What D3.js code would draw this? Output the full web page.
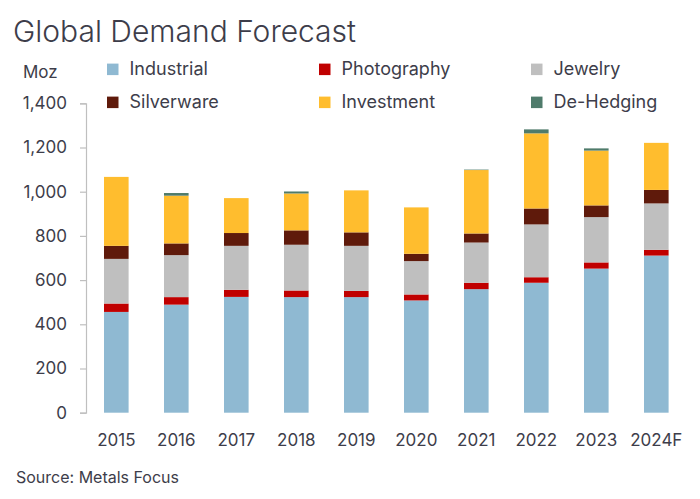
<!DOCTYPE html>
<html><head><meta charset="utf-8">
<script src="https://cdn.jsdelivr.net/npm/d3@7"></script>
<style>
html,body{margin:0;padding:0;background:#fff;}
svg{display:block;font-family:Inter, "Liberation Sans", sans-serif;}
</style></head>
<body><svg id="c" width="700" height="499"></svg>
<script>
const years = ["2015","2016","2017","2018","2019","2020","2021","2022","2023","2024F"];
const industrial  = [456, 489, 524, 523, 523, 508, 559, 588, 652, 711];
const photography = [38, 34, 32, 30, 28, 27, 29, 25, 28, 26];
const jewelry     = [202, 190, 199, 207, 204, 151, 182, 239, 205, 210];
const silverware  = [59, 53, 58, 65, 61, 33, 41, 72, 53, 61];
const investment  = [312, 216, 158, 167, 190, 210, 287, 340, 248, 213];
const deHedging   = [0, 12, 0, 9, 0, 0, 2, 18, 10, 0];
const seriesNames = ["Industrial","Photography","Jewelry","Silverware","Investment","De-Hedging"];
const seriesValues = [industrial, photography, jewelry, silverware, investment, deHedging];
const colors = ["#8fb9d2","#c00000","#bfbfbf","#5f1a0b","#ffbd2e","#4f7b6b"];
const yTicks = [0,200,400,600,800,1000,1200,1400];

const svg = d3.select("#c");
const textColor = "#3d3d4a";

const rows = years.map((y,i)=>{
  const o = {year:y};
  seriesNames.forEach((s,k)=>o[s]=seriesValues[k][i]);
  return o;
});
const stacked = d3.stack().keys(seriesNames)(rows);

const x = d3.scaleBand().domain(years).range([86.3, 686.3]).paddingInner(0.59).paddingOuter(0.295);
const y = d3.scaleLinear().domain([0,1400]).range([412.7, 103.3]);

// Title
svg.append("text").attr("x",13).attr("y",41.7)
  .attr("font-size",30).attr("font-weight",300).attr("fill",textColor)
  .text("Global Demand Forecast");

// Moz
svg.append("text").attr("x",23).attr("y",78.3)
  .attr("font-size",17).attr("fill",textColor).text("Moz");

// Legend
const legX = [107, 319, 531];
const legY = [69.3, 102.3];
seriesNames.forEach((s,k)=>{
  const col = k%3, row = Math.floor(k/3);
  const g = svg.append("g").attr("transform",`translate(${legX[col]},${legY[row]})`);
  g.append("rect").attr("x",0).attr("y",-5.7).attr("width",11.5).attr("height",11.5).attr("fill",colors[k]);
  g.append("text").attr("x",22.5).attr("y",6).attr("font-size",18).attr("fill",textColor).text(s);
});

// Bars
svg.append("g").selectAll("g").data(stacked).join("g")
  .attr("fill",(d,i)=>colors[i])
  .selectAll("rect").data(d=>d).join("rect")
  .attr("x",d=>x(d.data.year))
  .attr("width",x.bandwidth())
  .attr("y",d=>y(d[1]))
  .attr("height",d=>Math.max(0,y(d[0])-y(d[1])));

// Y axis
const yAxis = d3.axisLeft(y).tickValues(yTicks).tickFormat(d3.format(",")).tickSize(6).tickPadding(13);
const ga = svg.append("g").attr("transform","translate(86,0)").call(yAxis);
ga.select(".domain").attr("stroke","#bfbfbf").attr("stroke-width",1.2);
ga.selectAll(".tick line").attr("stroke","#bfbfbf").attr("stroke-width",1.2);
ga.selectAll(".tick text").attr("font-size",17).attr("fill",textColor).attr("font-family","Inter, 'Liberation Sans', sans-serif");

// X axis labels
const xAxis = d3.axisBottom(x).tickSize(0).tickPadding(0);
const gx = svg.append("g").attr("transform","translate(0,412.7)").call(xAxis);
gx.select(".domain").remove();
gx.selectAll(".tick text").attr("font-size",17).attr("fill",textColor)
  .attr("font-family","Inter, 'Liberation Sans', sans-serif")
  .attr("dy",null).attr("y",33);

// Source
svg.append("text").attr("x",16).attr("y",483.3)
  .attr("font-size",16).attr("fill",textColor).text("Source: Metals Focus");
</script></body></html>
